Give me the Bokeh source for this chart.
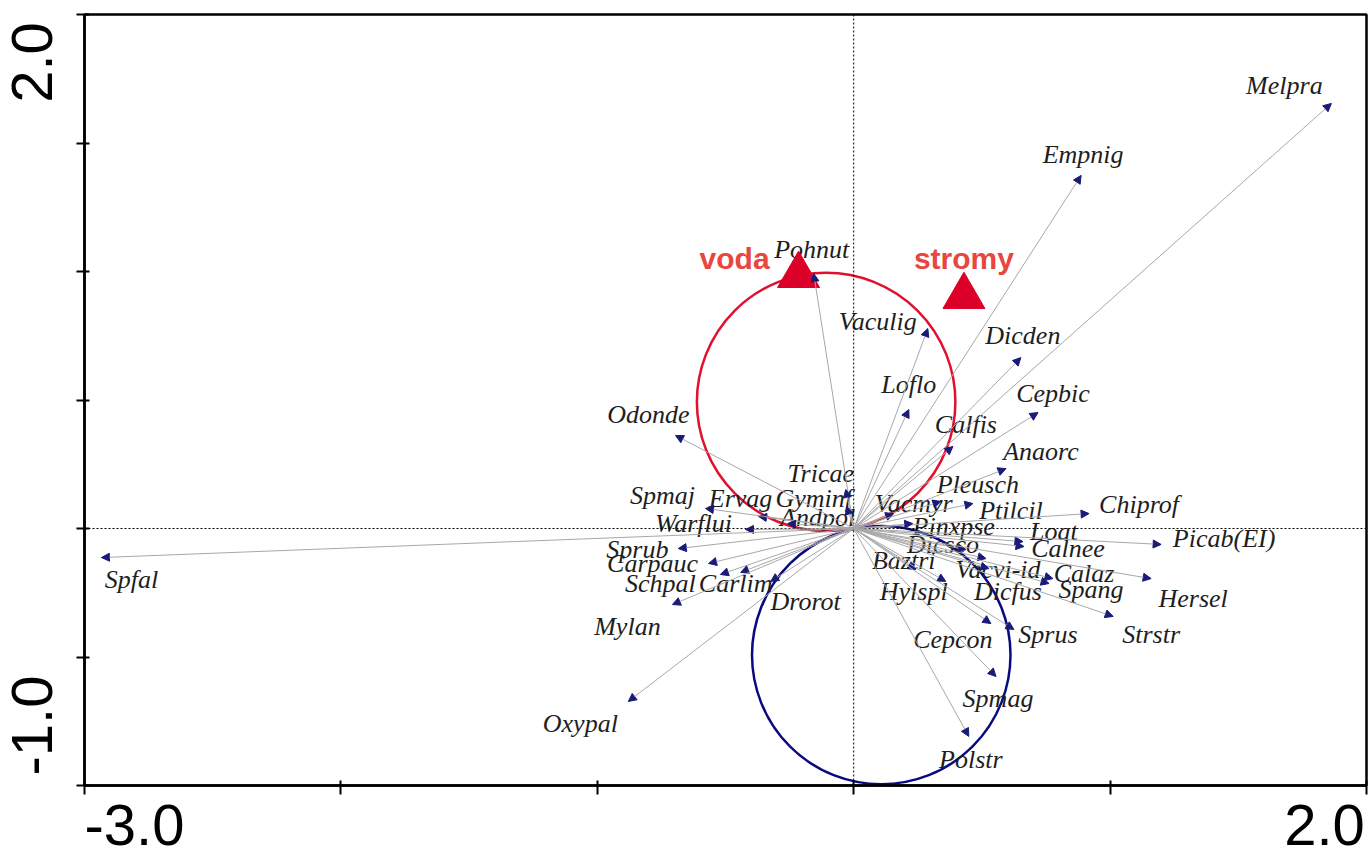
import math
from bokeh.plotting import figure
from bokeh.models import (Range1d, FixedTicker, Span, Arrow, NormalHead,
                          ColumnDataSource)
from bokeh.embed import file_html
from bokeh.resources import INLINE
from bokeh.core.properties import value

# ---------------- data ----------------
species = ["Melpra", "Empnig", "Pohnut", "Vaculig", "Dicden", "Cepbic", "Loflo",
           "Calfis", "Anaorc", "Odonde", "Tricae", "Gyminf", "Ervag", "Spmaj",
           "Warflui", "Andpol", "Vacmyr", "Pleusch", "Ptilcil", "Chiprof",
           "Pinxpse", "Loat", "Calnee", "Picab(EI)", "Dicsco", "Baztri",
           "Vacvi-id", "Calaz", "Spang", "Hersel", "Strstr", "Hylspl", "Dicfus",
           "Sprus", "Cepcon", "Spmag", "Polstr", "Sprub", "Carpauc", "Schpal",
           "Carlim", "Drorot", "Mylan", "Oxypal", "Spfal"]
sp_x = [1.863, 0.887, -0.156, 0.289, 0.652, 0.719, 0.215,
        0.387, 0.594, -0.695, -0.031, -0.027, -0.371, -0.578,
        -0.422, -0.258, 0.156, 0.340, 0.465, 0.918,
        0.230, 0.660, 0.664, 1.199, 0.438, 0.242,
        0.516, 0.762, 0.777, 1.160, 1.012, 0.359, 0.527,
        0.625, 0.535, 0.555, 0.449, -0.684, -0.566, -0.520,
        -0.441, -0.324, -0.707, -0.879, -2.934]
sp_y = [1.654, 1.374, 0.992, 0.778, 0.665, 0.451, 0.463,
        0.319, 0.233, 0.362, 0.152, 0.086, 0.047, 0.078,
        -0.004, 0.019, 0.058, 0.105, 0.097, 0.058,
        0.019, -0.051, -0.070, -0.062, -0.082, -0.160,
        -0.117, -0.214, -0.195, -0.195, -0.342, -0.206, -0.156,
        -0.393, -0.370, -0.576, -0.809, -0.078, -0.136, -0.179,
        -0.171, -0.206, -0.296, -0.673, -0.113]
# label placement relative to arrow tip (pixels, right / down)
lab_dx = [-47, 2, -2, -50, 2, 15, 0,
          13, 35, -27, -25, -33, -18, -43,
          -52, 30, 20, 37, 38, 50,
          41, 31, 44, 63, -23, -12,
          12, 35, 38, 42, 38, -32, 19,
          34, -38, 2, 2, -41, -56, -60,
          -5, 35, -45, -48, 30]
lab_dy = [-18, -21, -24, -7, -22, -19, -25,
          -22, -17, -21, -16, -8, -18, -13,
          -6, -6, -10, -17, 7, -9,
          3, -10, 2, -6, -5, -9,
          11, -10, 11, 20, 18, 10, 23,
          5, 16, 22, 23, 1, 0, 9,
          11, 20, 22, 22, 22]

env_names = ["voda", "stromy"]
env_x = [-0.215, 0.430]
env_y = [0.985, 0.903]
env_dx = [-64, 0]
env_dy = [-17, -38]

x_ticks = [-3, -2, -1, 0, 1, 2]
y_ticks = [-1, -0.5, 0, 0.5, 1, 1.5, 2]
x_min, x_max = -3.0, 2.0
y_min, y_max = -1.0, 2.0

# ---------------- figure ----------------
W, H = 1368, 855
BL, BR, BT, BB = 84, 2, 14, 70
p = figure(width=W, height=H, output_backend="svg", toolbar_location=None,
           x_range=Range1d(x_min, x_max), y_range=Range1d(y_min, y_max),
           min_border_left=BL, min_border_right=BR, min_border_top=BT,
           min_border_bottom=BB, background_fill_color="white",
           border_fill_color="white")
p.grid.visible = False
p.outline_line_color = "black"
p.outline_line_width = 2.5

px_x = (W - BL - BR) / (x_max - x_min)
px_y = (H - BT - BB) / (y_max - y_min)

# only the end values are labelled; labels sit inside the end ticks
xl_lo = round(x_min + 50 / px_x, 4)
xl_hi = round(x_max - 42 / px_x, 4)
yl_lo = round(y_min + 60 / px_y, 4)
yl_hi = round(y_max - 48 / px_y, 4)

xa = p.xaxis[0]
xa.ticker = FixedTicker(ticks=[xl_lo, xl_hi], minor_ticks=x_ticks)
xa.major_label_overrides = {xl_lo: "%.1f" % x_min, xl_hi: "%.1f" % x_max}
ya = p.yaxis[0]
ya.ticker = FixedTicker(ticks=[yl_lo, yl_hi], minor_ticks=y_ticks)
ya.major_label_overrides = {yl_lo: "%.1f" % y_min, yl_hi: "%.1f" % y_max}
ya.major_label_orientation = "vertical"

for ax in (xa, ya):
    ax.axis_line_width = 2.5
    ax.axis_line_color = "black"
    ax.major_tick_line_color = None
    ax.minor_tick_line_color = "black"
    ax.minor_tick_line_width = 2
    ax.minor_tick_in = 5
    ax.minor_tick_out = 8
    ax.major_tick_in = 0
    ax.major_tick_out = 0
    ax.major_label_text_font = "Liberation Sans"
    ax.major_label_text_font_size = "58px"
    ax.major_label_text_color = "black"
    ax.major_label_text_line_height = 1.0
xa.minor_tick_out = 9
xa.major_label_standoff = 10
ya.major_label_standoff = 24

# dotted zero lines
p.add_layout(Span(location=0, dimension="height", line_color="black",
                  line_width=1, line_dash="2 2"))
p.add_layout(Span(location=0, dimension="width", line_color="black",
                  line_width=1, line_dash="2 2"))

# Van Dobben circles for "voda"
vx, vy = env_x[0], env_y[0]
r = math.hypot(vx, vy) / 2
p.circle(x=[vx / 2], y=[vy / 2], radius=r, fill_color=None,
         line_color="#E0102E", line_width=2.5)
p.circle(x=[-vx / 2], y=[-vy / 2], radius=r, fill_color=None,
         line_color="#0A0A80", line_width=2.5)

# species arrows
src = ColumnDataSource(dict(x=sp_x, y=sp_y, name=species, dx=lab_dx, dy=lab_dy))
p.add_layout(Arrow(end=NormalHead(size=8, fill_color="#1a1a78",
                                  line_color="#1a1a78", line_width=1),
                   x_start=0, y_start=0, x_end="x", y_end="y", source=src,
                   line_color="#a8a8a8", line_width=1))

p.text(x="x", y="y", text="name", x_offset="dx", y_offset="dy", source=src,
       text_font=value("Liberation Serif"), text_font_style="italic",
       text_font_size="26px", text_color="#1e1e1e",
       text_align="center", text_baseline="middle")

# environmental centroids
esrc = ColumnDataSource(dict(x=env_x, y=env_y, name=env_names,
                             dx=env_dx, dy=env_dy))
p.scatter(x="x", y="y", source=esrc, marker="triangle", size=42,
          fill_color="#DC0028", line_color="#DC0028")
p.text(x="x", y="y", text="name", x_offset="dx", y_offset="dy", source=esrc,
       text_font=value("Liberation Sans"), text_font_style="bold",
       text_font_size="30px", text_color="#E8463F",
       text_align="center", text_baseline="middle")

open("out.html", "w").write(file_html(p, INLINE))
